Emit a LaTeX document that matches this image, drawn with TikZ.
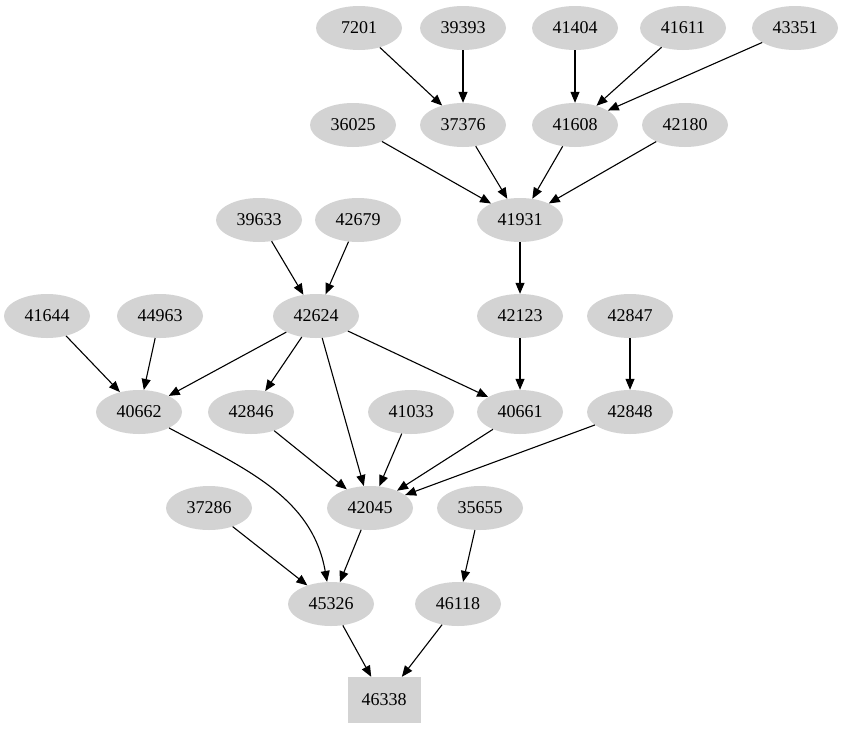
\documentclass[tikz,border=0pt]{standalone}
\usepackage{fontspec}
\setmainfont{Liberation Serif}
\usepackage[HTML]{xcolor}
\usetikzlibrary{positioning, arrows.meta, shapes.geometric}
\definecolor{nodegray}{HTML}{D3D3D3}

\begin{document}
\begin{tikzpicture}[x=1pt, y=-1pt,
  every node/.style={font=\fontsize{18}{20}\selectfont},
  post/.style={ellipse, fill=nodegray, minimum width=86pt, minimum height=44pt, inner sep=0pt},
  root/.style={rectangle, fill=nodegray, minimum width=73pt, minimum height=46pt, inner sep=0pt},
  link/.style={-{Triangle[length=11pt,width=9pt]}, line width=1.1pt}]
\useasboundingbox (0,0) rectangle (845,731);

% Top rows
\node[post] (7201) at (359,28) {7201};
\node[post] (39393) at (463,28) {39393};
\node[post] (41404) at (575,28) {41404};
\node[post] (41611) at (683,28) {41611};
\node[post] (43351) at (795,28) {43351};
\node[post] (36025) at (353,125) {36025};
\node[post] (37376) at (463,125) {37376};
\node[post] (41608) at (575,125) {41608};
\node[post] (42180) at (685,125) {42180};
\node[post] (39633) at (259,220) {39633};
\node[post] (42679) at (358,220) {42679};
\node[post] (41931) at (520,220) {41931};

% Middle rows
\node[post] (41644) at (47,316) {41644};
\node[post] (44963) at (160,316) {44963};
\node[post] (42624) at (316,316) {42624};
\node[post] (42123) at (520,316) {42123};
\node[post] (42847) at (630,316) {42847};
\node[post] (40662) at (139,412) {40662};
\node[post] (42846) at (251,412) {42846};
\node[post] (41033) at (411,412) {41033};
\node[post] (40661) at (520,412) {40661};
\node[post] (42848) at (630,412) {42848};

% Bottom rows
\node[post] (37286) at (209,508) {37286};
\node[post] (42045) at (370,508) {42045};
\node[post] (35655) at (480,508) {35655};
\node[post] (45326) at (331,604) {45326};
\node[post] (46118) at (458,604) {46118};
\node[root] (46338) at (384,700) {46338};

% Edges
\draw[link] (7201) -- (37376);
\draw[link] (39393) -- (37376);
\draw[link] (41404) -- (41608);
\draw[link] (41611) -- (41608);
\draw[link] (43351) -- (41608);
\draw[link] (36025) -- (41931);
\draw[link] (37376) -- (41931);
\draw[link] (41608) -- (41931);
\draw[link] (42180) -- (41931);
\draw[link] (41931) -- (42123);
\draw[link] (39633) -- (42624);
\draw[link] (42679) -- (42624);
\draw[link] (41644) -- (40662);
\draw[link] (44963) -- (40662);
\draw[link] (42624) -- (40662);
\draw[link] (42624) -- (42846);
\draw[link] (42624) -- (42045);
\draw[link] (42624) -- (40661);
\draw[link] (42123) -- (40661);
\draw[link] (42847) -- (42848);
\draw[link] (40662) to[out=-28, in=100] (45326);
\draw[link] (42846) -- (42045);
\draw[link] (41033) -- (42045);
\draw[link] (40661) -- (42045);
\draw[link] (42848) -- (42045);
\draw[link] (37286) -- (45326);
\draw[link] (42045) -- (45326);
\draw[link] (35655) -- (46118);
\draw[link] (45326) -- (46338);
\draw[link] (46118) -- (46338);
\end{tikzpicture}
\end{document}
